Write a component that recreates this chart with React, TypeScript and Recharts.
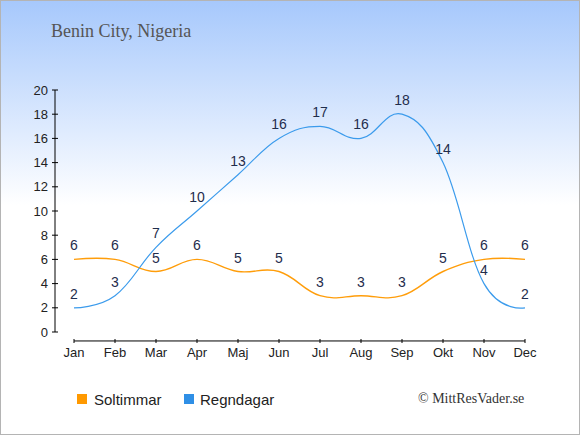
import React from "react";
import { LineChart, Line, XAxis, YAxis, LabelList, ReferenceLine } from "recharts";

const months = ["Jan", "Feb", "Mar", "Apr", "Maj", "Jun", "Jul", "Aug", "Sep", "Okt", "Nov", "Dec"];
const sunHours = [6, 6, 5, 6, 5, 5, 3, 3, 3, 5, 6, 6];
const rainDays = [2, 3, 7, 10, 13, 16, 17, 16, 18, 14, 4, 2];
const yTicks = [0, 2, 4, 6, 8, 10, 12, 14, 16, 18, 20];

const data = months.map((month, i) => ({
  month,
  sol: sunHours[i],
  regn: rainDays[i],
}));

const SUN_COLOR = "#ff9d0a";
const RAIN_COLOR = "#3b9bec";
const LABEL_COLOR = "#1f2d4c";
const SANS = "'Liberation Sans', Arial, sans-serif";
const SERIF = "'Liberation Serif', 'Times New Roman', serif";

// smooth spline (control points on a line through each point)
function spline(context: any) {
  let pts: [number, number][] = [];
  return {
    areaStart() {},
    areaEnd() {},
    lineStart() {
      pts = [];
    },
    point(x: number, y: number) {
      pts.push([+x, +y]);
    },
    lineEnd() {
      const n = pts.length;
      if (!n) return;
      context.moveTo(pts[0][0], pts[0][1]);
      if (n === 1) return;
      const s = 1.5;
      const d = s + 1;
      const ctrl = pts.map(([x, y], i) => {
        if (i === 0 || i === n - 1) return { lx: x, ly: y, rx: x, ry: y };
        const [px, py] = pts[i - 1];
        const [nx, ny] = pts[i + 1];
        const lx = (s * x + px) / d;
        let ly = (s * y + py) / d;
        const rx = (s * x + nx) / d;
        let ry = (s * y + ny) / d;
        let corr = 0;
        if (rx !== lx) corr = ((ry - ly) * (rx - x)) / (rx - lx) + y - ry;
        ly += corr;
        ry += corr;
        return { lx, ly, rx, ry };
      });
      for (let i = 1; i < n; i++) {
        context.bezierCurveTo(ctrl[i - 1].rx, ctrl[i - 1].ry, ctrl[i].lx, ctrl[i].ly, pts[i][0], pts[i][1]);
      }
    },
  };
}

function YTick({ x, y, payload }: any) {
  return (
    <g>
      <line x1={x - 3} x2={x + 3} y1={y} y2={y} stroke="#000" strokeWidth={1} />
      <text x={x - 7} y={y} dy="0.36em" textAnchor="end" fontFamily={SANS} fontSize={13} fill="#222">
        {payload.value}
      </text>
    </g>
  );
}

function XTick({ x, y, payload }: any) {
  return (
    <g>
      <line x1={x} x2={x} y1={y + 7} y2={y + 11} stroke="#000" strokeWidth={1} />
      <text x={x} y={y + 25} textAnchor="middle" fontFamily={SANS} fontSize={13} fill="#222">
        {payload.value}
      </text>
    </g>
  );
}

export default function App() {
  return (
    <div
      style={{
        position: "absolute",
        left: 0,
        top: 0,
        width: 580,
        height: 435,
        background: "linear-gradient(to bottom, #a6c8fc 0px, #ffffff 205px, #ffffff 435px)",
      }}
    >
      <div
        style={{
          position: "absolute",
          left: 51,
          top: 22,
          fontFamily: SERIF,
          fontSize: 18,
          lineHeight: "18px",
          color: "#555",
          whiteSpace: "nowrap",
        }}
      >
        Benin City, Nigeria
      </div>
      <LineChart
        width={580}
        height={435}
        data={data}
        margin={{ top: 90, right: 36, bottom: 73, left: 25 }}
        style={{ position: "absolute", left: 0, top: 0 }}
      >
        <XAxis
          dataKey="month"
          padding={{ left: 19, right: 19 }}
          axisLine={false}
          tickLine={false}
          tickSize={0}
          tickMargin={0}
          height={30}
          interval={0}
          tick={<XTick />}
        />
        <YAxis
          domain={[0, 20]}
          ticks={yTicks}
          width={30}
          axisLine={{ stroke: "#000", strokeWidth: 1 }}
          tickLine={false}
          tickSize={0}
          tickMargin={0}
          interval={0}
          tick={<YTick />}
        />
        <ReferenceLine
          segment={[
            { x: "Jan", y: -0.74 },
            { x: "Dec", y: -0.74 },
          ]}
          stroke="#000"
          strokeWidth={1}
          ifOverflow="visible"
        />
        <Line
          dataKey="sol"
          type={spline as any}
          stroke={SUN_COLOR}
          strokeWidth={1.4}
          dot={false}
          activeDot={false}
          isAnimationActive={false}
        >
          <LabelList dataKey="sol" position="top" offset={9} fill={LABEL_COLOR} fontSize={14} fontFamily={SANS} />
        </Line>
        <Line
          dataKey="regn"
          type={spline as any}
          stroke={RAIN_COLOR}
          strokeWidth={1.2}
          dot={false}
          activeDot={false}
          isAnimationActive={false}
        >
          <LabelList dataKey="regn" position="top" offset={9} fill={LABEL_COLOR} fontSize={14} fontFamily={SANS} />
        </Line>
      </LineChart>
      <div style={{ position: "absolute", left: 77, top: 394, width: 10, height: 10, background: "#ff9900" }} />
      <div
        style={{ position: "absolute", left: 94, top: 392, fontFamily: SANS, fontSize: 15, lineHeight: "15px", color: "#222" }}
      >
        Soltimmar
      </div>
      <div style={{ position: "absolute", left: 184, top: 394, width: 10, height: 10, background: "#2f8fe6" }} />
      <div
        style={{ position: "absolute", left: 200, top: 392, fontFamily: SANS, fontSize: 15, lineHeight: "15px", color: "#222" }}
      >
        Regndagar
      </div>
      <div
        style={{
          position: "absolute",
          left: 418,
          top: 392,
          fontFamily: SERIF,
          fontSize: 14,
          lineHeight: "14px",
          color: "#333",
          whiteSpace: "nowrap",
        }}
      >
        © MittResVader.se
      </div>
      <div
        style={{
          position: "absolute",
          left: 0,
          top: 0,
          width: 580,
          height: 435,
          boxSizing: "border-box",
          border: "1px solid #b4b4b4",
          pointerEvents: "none",
        }}
      />
    </div>
  );
}
